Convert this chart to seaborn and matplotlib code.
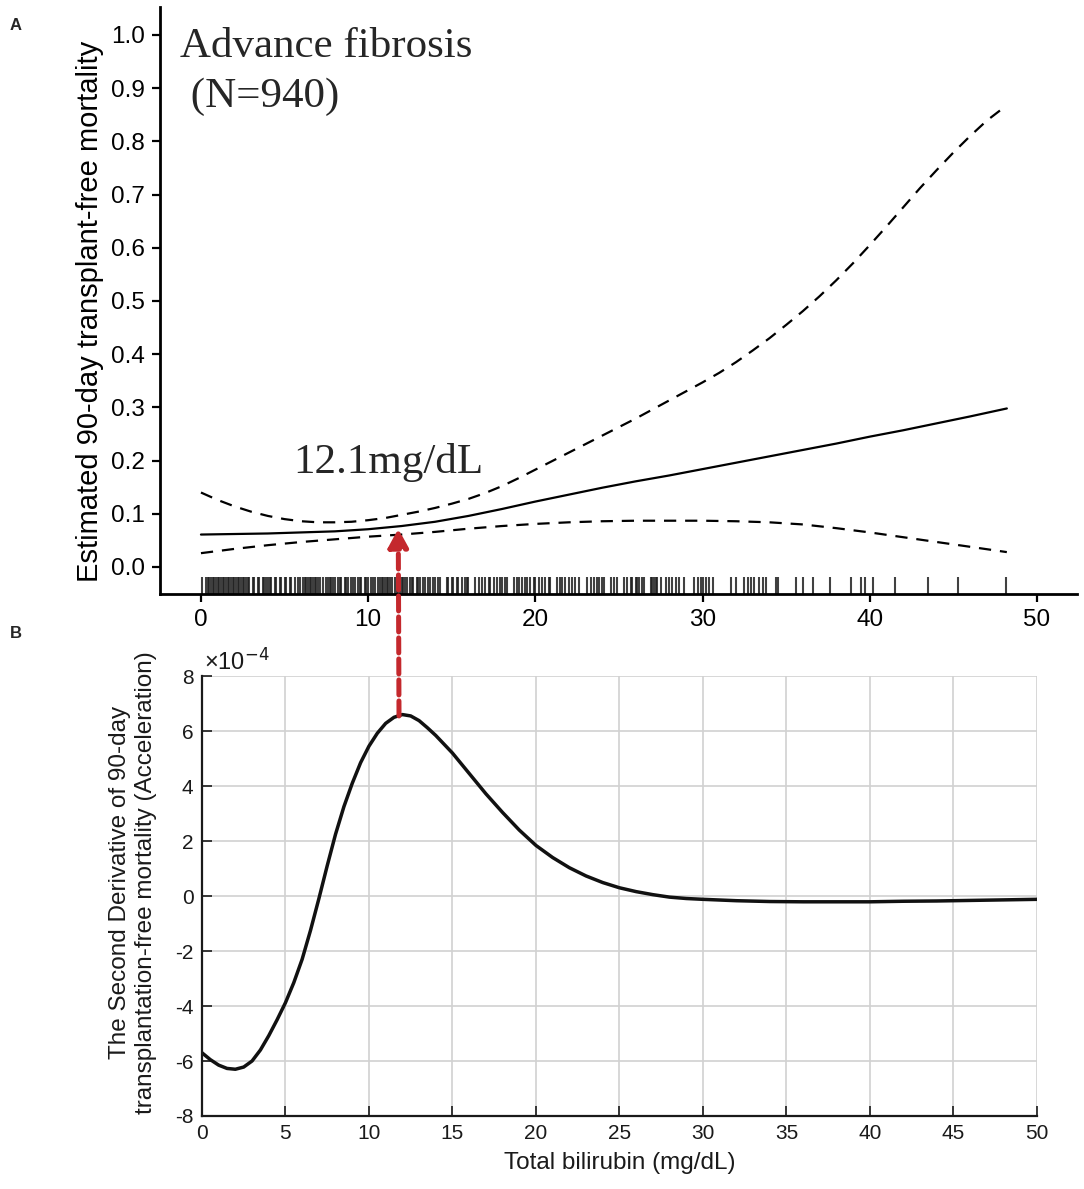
import numpy as np
import pandas as pd
import matplotlib
matplotlib.use('Agg')
import matplotlib.pyplot as plt
from matplotlib.patches import ConnectionPatch
from matplotlib.ticker import FormatStrFormatter
import seaborn as sns

# panel A: estimated 90-day mortality vs bilirubin
fit_x = [0, 2, 4, 6, 8, 10, 12, 14, 16, 18, 20, 22, 24, 26, 28, 30, 32, 34, 36, 38, 40, 42, 44, 46, 48.2]
fit_y = [0.061, 0.062, 0.063, 0.065, 0.067, 0.071, 0.077, 0.085, 0.096, 0.109, 0.123, 0.136, 0.149,
         0.161, 0.172, 0.184, 0.196, 0.208, 0.220, 0.232, 0.245, 0.257, 0.270, 0.283, 0.298]

upper_x = [0, 1, 2, 3, 4, 5, 6, 7, 8, 9, 10, 11, 12, 13, 14, 15, 16, 17, 18, 19, 20, 21, 22, 23, 24,
           25, 26, 27, 28, 29, 30, 31, 32, 33, 34, 35, 36, 37, 38, 39, 40, 41, 42, 43, 44, 45, 46, 47, 48.2]
upper_y = [0.140, 0.126, 0.114, 0.104, 0.096, 0.090, 0.086, 0.084, 0.084, 0.085, 0.088, 0.092, 0.098,
           0.104, 0.111, 0.119, 0.128, 0.139, 0.152, 0.167, 0.183, 0.199, 0.215, 0.231, 0.247, 0.263,
           0.279, 0.296, 0.313, 0.330, 0.347, 0.365, 0.385, 0.407, 0.430, 0.455, 0.481, 0.509, 0.539,
           0.571, 0.605, 0.640, 0.676, 0.712, 0.746, 0.779, 0.810, 0.839, 0.868]

lower_x = [0, 2, 4, 6, 8, 10, 12, 14, 16, 18, 20, 22, 24, 26, 28, 30, 32, 34, 36, 38, 40, 42, 44, 46, 48.2]
lower_y = [0.026, 0.034, 0.041, 0.047, 0.052, 0.057, 0.061, 0.066, 0.072, 0.077, 0.081, 0.084, 0.086,
           0.087, 0.087, 0.087, 0.086, 0.084, 0.080, 0.073, 0.065, 0.056, 0.047, 0.038, 0.028]

# bilirubin values of the patients (rug)
rug_bili = [
    0.04, 0.3, 0.4, 0.5, 0.6, 0.7, 0.8, 0.9, 1.0, 1.1, 1.2, 1.3, 1.4, 1.5, 1.6, 1.7, 1.8, 1.9,
    2.0, 2.1, 2.2, 2.3, 2.4, 2.5, 2.6, 2.7, 2.8, 2.9,
    3.1, 3.2, 3.4, 3.5, 3.7, 3.8, 3.9, 4.0, 4.1, 4.2, 4.4, 4.5, 4.7, 4.8, 5.0, 5.1, 5.3, 5.4,
    5.6, 5.8, 5.9, 6.1, 6.2, 6.3, 6.4, 6.5, 6.6, 6.7, 6.8, 6.9, 7.0, 7.1, 7.3, 7.5, 7.6, 7.7,
    7.8, 7.9, 8.0, 8.2, 8.3, 8.4, 8.6, 8.7, 8.8, 9.0, 9.1, 9.2, 9.4, 9.5, 9.6, 9.8, 9.9, 10.0,
    10.2, 10.3, 10.4, 10.6, 10.7, 10.8, 10.9, 11.0, 11.1, 11.2, 11.3, 11.4, 11.6, 11.7, 11.8,
    11.9, 12.0, 12.1, 12.2, 12.3, 12.5, 12.6, 12.7, 12.9, 13.0, 13.1, 13.3, 13.4, 13.6, 13.7,
    13.9, 14.0, 14.2, 14.3, 14.7, 14.8, 15.0, 15.1, 15.3, 15.4, 15.6, 15.8, 15.9, 16.0, 16.4,
    16.6, 16.8, 17.0, 17.2, 17.3, 17.5, 17.7, 17.9, 18.0, 18.2, 18.3, 18.7, 18.9, 19.0, 19.2,
    19.4, 19.5, 19.7, 19.9, 20.0, 20.2, 20.4, 20.6, 20.8, 20.9, 21.3, 21.5, 21.6, 21.8, 22.0,
    22.2, 22.4, 22.6, 23.1, 23.3, 23.5, 23.7, 23.8, 24.0, 24.1, 24.5, 24.7, 24.9, 25.3, 25.5,
    25.7, 25.8, 26.0, 26.1, 26.2, 26.4, 26.5, 26.9, 27.0, 27.1, 27.2, 27.3, 27.5, 27.8, 28.0,
    28.2, 28.4, 28.6, 28.9, 29.5, 29.7, 29.9, 30.0, 30.2, 30.4, 30.6,
    31.7, 32.0, 32.5, 32.7, 32.9, 33.1, 33.4, 33.6, 33.8, 34.4, 34.5, 35.6, 36.0, 36.6, 37.6,
    38.9, 39.5, 39.7, 40.2, 41.5, 43.5, 45.3, 48.15]

# panel B: second derivative (x 1e-4)
accel_x = [0, 0.5, 1.0, 1.5, 2.0, 2.5, 3.0, 3.5, 4.0, 4.5, 5.0, 5.5, 6.0, 6.5, 7.0, 7.5, 8.0, 8.5,
           9.0, 9.5, 10.0, 10.5, 11.0, 11.5, 12.0, 12.5, 13.0, 13.5, 14.0, 15.0, 16.0, 17.0, 18.0,
           19.0, 20.0, 21.0, 22.0, 23.0, 24.0, 25.0, 26.0, 27.0, 28.0, 29.0, 30.0, 32.0, 34.0,
           36.0, 38.0, 40.0, 42.0, 44.0, 46.0, 48.0, 50.0]
accel_y = [-5.70, -5.95, -6.15, -6.27, -6.30, -6.22, -6.00, -5.60, -5.08, -4.50, -3.88, -3.15,
           -2.30, -1.25, -0.10, 1.10, 2.25, 3.25, 4.10, 4.85, 5.45, 5.92, 6.28, 6.50, 6.60, 6.55,
           6.38, 6.12, 5.84, 5.20, 4.46, 3.72, 3.04, 2.40, 1.84, 1.40, 1.03, 0.73, 0.49, 0.30,
           0.16, 0.05, -0.04, -0.09, -0.12, -0.17, -0.20, -0.21, -0.21, -0.21, -0.19, -0.18,
           -0.16, -0.14, -0.12]

cutoff = 11.8
red = '#C4282D'

sns.set_theme(style='white')
plt.rcParams['font.family'] = ['Liberation Sans', 'DejaVu Sans']
plt.rcParams['axes.unicode_minus'] = False
plt.rcParams['mathtext.fontset'] = 'custom'
plt.rcParams['mathtext.rm'] = 'Liberation Sans'
plt.rcParams['mathtext.it'] = 'Liberation Sans:italic'

fig = plt.figure(figsize=(10.84, 11.89), dpi=100)
axA = fig.add_axes([0.1476, 0.5004, 0.846, 0.4937])
axB = fig.add_axes([0.1863, 0.0614, 0.7703, 0.3700])

# ---- panel A
sns.lineplot(x=fit_x, y=fit_y, ax=axA, color='black', lw=1.6)
sns.lineplot(x=upper_x, y=upper_y, ax=axA, color='black', lw=1.6)
axA.lines[-1].set_dashes((5.5, 4))
sns.lineplot(x=lower_x, y=lower_y, ax=axA, color='black', lw=1.6)
axA.lines[-1].set_dashes((5.5, 4))
sns.rugplot(x=rug_bili, ax=axA, height=0.029, color='0.12', linewidth=1.5, alpha=0.85)

axA.set_xlim(-2.45, 52.4)
axA.set_ylim(-0.0508, 1.0526)
axA.set_xticks([0, 10, 20, 30, 40, 50])
axA.set_yticks(np.arange(0, 1.01, 0.1))
axA.yaxis.set_major_formatter(FormatStrFormatter('%.1f'))
axA.spines[['top', 'right']].set_visible(False)
for s in ['left', 'bottom']:
    axA.spines[s].set_linewidth(2)
    axA.spines[s].set_color('black')
axA.tick_params(bottom=True, left=True, direction='out', length=6, width=1.6,
                labelsize=17.5, pad=5, colors='black')
axA.set_ylabel('Estimated 90-day transplant-free mortality', fontsize=21, color='black')
axA.yaxis.set_label_coords(-0.061, 0.482)
axA.set_xlabel('')

axA.text(-1.26, 0.9586, 'Advance fibrosis', fontsize=31, family='Liberation Serif', va='baseline')
axA.text(-1.26, 0.8647, ' (N=940)', fontsize=31, family='Liberation Serif', va='baseline')
axA.text(5.5, 0.1767, '12.1mg/dL', fontsize=31, family='Liberation Serif', va='baseline')

# ---- panel B
sns.lineplot(x=accel_x, y=accel_y, ax=axB, color='#111111', lw=2.5)
axB.set_xlim(0, 50)
axB.set_ylim(-8, 8)
axB.set_xticks(np.arange(0, 51, 5))
axB.set_yticks(np.arange(-8, 9, 2))
axB.grid(True, color='0.82', lw=1.2)
axB.spines[['top', 'right']].set_visible(False)
for s in ['left', 'bottom']:
    axB.spines[s].set_linewidth(1.6)
    axB.spines[s].set_color('#1a1a1a')
axB.tick_params(bottom=True, left=True, direction='in', length=7, width=1.2,
                labelsize=15, pad=6, colors='#1a1a1a')
axB.set_xlabel('Total bilirubin (mg/dL)', fontsize=17.5, color='#1a1a1a')
axB.xaxis.set_label_coords(0.5, -0.082)
axB.set_ylabel('The Second Derivative of 90-day\ntransplantation-free mortality (Acceleration)',
               fontsize=17.5, color='#1a1a1a')
axB.yaxis.set_label_coords(-0.054, 0.53)
axB.text(0.003, 1.004, r'$\times10^{\mathsf{-4}}$', transform=axB.transAxes, fontsize=17,
         va='bottom', ha='left', color='#1a1a1a')

# red dashed arrow linking the peak acceleration to the curve
con = ConnectionPatch(xyA=(cutoff, 6.55), coordsA=axB.transData,
                      xyB=(cutoff, 0.072), coordsB=axA.transData,
                      arrowstyle='-|>,head_length=1.1,head_width=0.6', mutation_scale=10,
                      color=red, lw=3.6, linestyle=(0, (3, 1.2)), shrinkA=0, shrinkB=0)
fig.add_artist(con)

fig.text(10 / 1084, 1 - 30 / 1189, 'A', fontsize=12, weight='bold')
fig.text(10 / 1084, 1 - 638 / 1189, 'B', fontsize=12, weight='bold')

fig.savefig('out.png', dpi=100)
